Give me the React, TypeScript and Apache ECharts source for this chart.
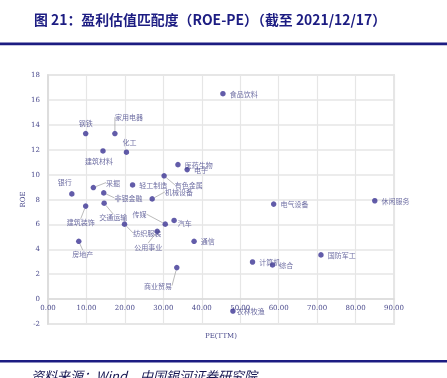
import React, { useEffect, useRef } from "react";
import * as echarts from "echarts";

const industries = ["钢铁","家用电器","建筑材料","化工","银行","采掘","非银金融","轻工制造","建筑装饰","交通运输","纺织服装","房地产","传媒","公用事业","机械设备","汽车","通信","商业贸易","电气设备","计算机","综合","农林牧渔","医药生物","电子","有色金属","食品饮料","休闲服务","国防军工"];
const peValues = [9.8,17.4,14.3,20.4,6.2,11.8,14.5,22.0,9.8,14.6,19.9,8.0,30.5,28.4,27.1,32.8,38.0,33.5,58.7,53.2,58.4,48.1,33.8,36.2,30.2,45.5,85.0,71.0];
const roeValues = [13.3,13.3,11.9,11.8,8.45,8.96,8.53,9.17,7.47,7.7,6.02,4.64,6.02,5.44,8.05,6.32,4.64,2.53,7.63,2.98,2.74,-0.96,10.8,10.4,9.9,16.5,7.9,3.55];

// label placement style per industry: [position, dx, dy, leader]
const labelPlace: Record<string, [string, number, number, boolean]> = {
  "钢铁": ["top", 0, 0, false],
  "家用电器": ["top", 14, -6, true],
  "建筑材料": ["bottom", -4, 0, false],
  "化工": ["top", 3, 0, false],
  "银行": ["top", -7, -2, false],
  "采掘": ["right", 6, -5, true],
  "非银金融": ["right", 4, 5, true],
  "轻工制造": ["right", 0, 0, false],
  "建筑装饰": ["bottom", -5, 6, true],
  "交通运输": ["bottom", 9, 4, true],
  "纺织服装": ["right", 2, 9, true],
  "房地产": ["bottom", 4, 2, true],
  "传媒": ["left", -12, -10, true],
  "公用事业": ["bottom", -9, 5, true],
  "机械设备": ["right", 6, -7, true],
  "汽车": ["right", -3, 3, false],
  "通信": ["right", 0, 0, false],
  "商业贸易": ["left", 2, 18, true],
  "电气设备": ["right", 0, 0, false],
  "计算机": ["right", 0, 0, false],
  "综合": ["right", 0, 0, false],
  "农林牧渔": ["right", -3, 0, false],
  "医药生物": ["right", 0, 0, false],
  "电子": ["right", 0, 0, false],
  "有色金属": ["right", 4, 9, true],
  "食品饮料": ["right", 0, 0, false],
  "休闲服务": ["right", 0, 0, false],
  "国防军工": ["right", 0, 0, false],
};

const NAVY = "#1c1c82";
const POINT = "#3b3393";
const TXT = "#4a4a8c";

export default function App() {
  const ref = useRef<HTMLDivElement>(null);
  useEffect(() => {
    if (!ref.current) return;
    const chart = echarts.init(ref.current, null, { renderer: "svg" });
    const data = industries.map((name, i) => {
      const p = labelPlace[name];
      return {
        name,
        value: [peValues[i], roeValues[i]],
        label: { position: p[0] as any },
        labelLine: { show: p[3] },
      };
    });
    const gridTop = 75;
    const gridBottom = 54;
    const plotH = 378 - gridTop - gridBottom;
    const yMin = -2;
    const yMax = 18;
    const zeroOffset = -plotH * (0 - yMin) / (yMax - yMin);
    chart.setOption({
      animation: false,
      title: {
        text: "图 21：盈利估值匹配度（ROE-PE）（截至 2021/12/17）",
        left: 29,
        top: 7,
        textStyle: { color: NAVY, fontSize: 13.9, fontWeight: "bold", fontFamily: "Noto Sans CJK SC" },
      },
      graphic: [
        { type: "rect", shape: { x: 0, y: 42.5, width: 447, height: 2.8 }, style: { fill: NAVY } },
        { type: "rect", shape: { x: 0, y: 360, width: 447, height: 2.5 }, style: { fill: NAVY } },
        {
          type: "text",
          left: 31,
          top: 369,
          style: { text: "资料来源：Wind，中国银河证券研究院", fill: "#141450", fontSize: 13, fontStyle: "italic", fontFamily: "Noto Sans CJK SC" },
        },
      ],
      grid: { left: 48, right: 53, top: gridTop, bottom: gridBottom, show: true, borderColor: "#e6e6e6", borderWidth: 2 },
      xAxis: {
        type: "value",
        min: 0,
        max: 90,
        interval: 10,
        position: "bottom",
        offset: zeroOffset,
        name: "PE(TTM)",
        nameLocation: "middle",
        nameGap: 33,
        nameMoveOverlap: false,
        nameTextStyle: { color: TXT, fontSize: 7, fontFamily: "DejaVu Serif" },
        axisLine: { onZero: false, lineStyle: { color: "#dadada", width: 1.5 } },
        axisTick: { show: false },
        axisLabel: { color: TXT, fontSize: 7, fontFamily: "DejaVu Serif", margin: 5, formatter: (v: number) => v.toFixed(2) },
        splitLine: { show: true, lineStyle: { color: "#e6e6e6", width: 1.2 } },
      },
      yAxis: {
        type: "value",
        min: yMin,
        max: yMax,
        interval: 2,
        name: "ROE",
        nameLocation: "middle",
        nameGap: 22,
        nameMoveOverlap: false,
        nameTextStyle: { color: TXT, fontSize: 7, fontFamily: "DejaVu Serif" },
        axisLine: { show: true, onZero: false, lineStyle: { color: "#dadada", width: 1.5 } },
        axisTick: { show: false },
        axisLabel: { color: TXT, fontSize: 7, fontFamily: "DejaVu Serif", margin: 8 },
        splitLine: { show: true, lineStyle: { color: "#e6e6e6", width: 1.5 } },
      },
      series: [
        {
          type: "scatter",
          symbolSize: 5.5,
          itemStyle: { color: POINT },
          data,
          label: {
            show: true,
            formatter: "{b}",
            color: TXT,
            fontSize: 7,
            fontFamily: "Noto Sans CJK SC",
            distance: 4,
          },
          labelLine: { show: false, lineStyle: { color: "#aaaaaa", width: 0.8 } },
          labelLayout: (params: any) => {
            const p = labelPlace[industries[params.dataIndex]];
            return { dx: p[1], dy: p[2] };
          },
        },
      ],
    });
    return () => chart.dispose();
  }, []);
  return <div ref={ref} style={{ position: "fixed", left: 0, top: 0, width: 447, height: 378 }} />;
}
